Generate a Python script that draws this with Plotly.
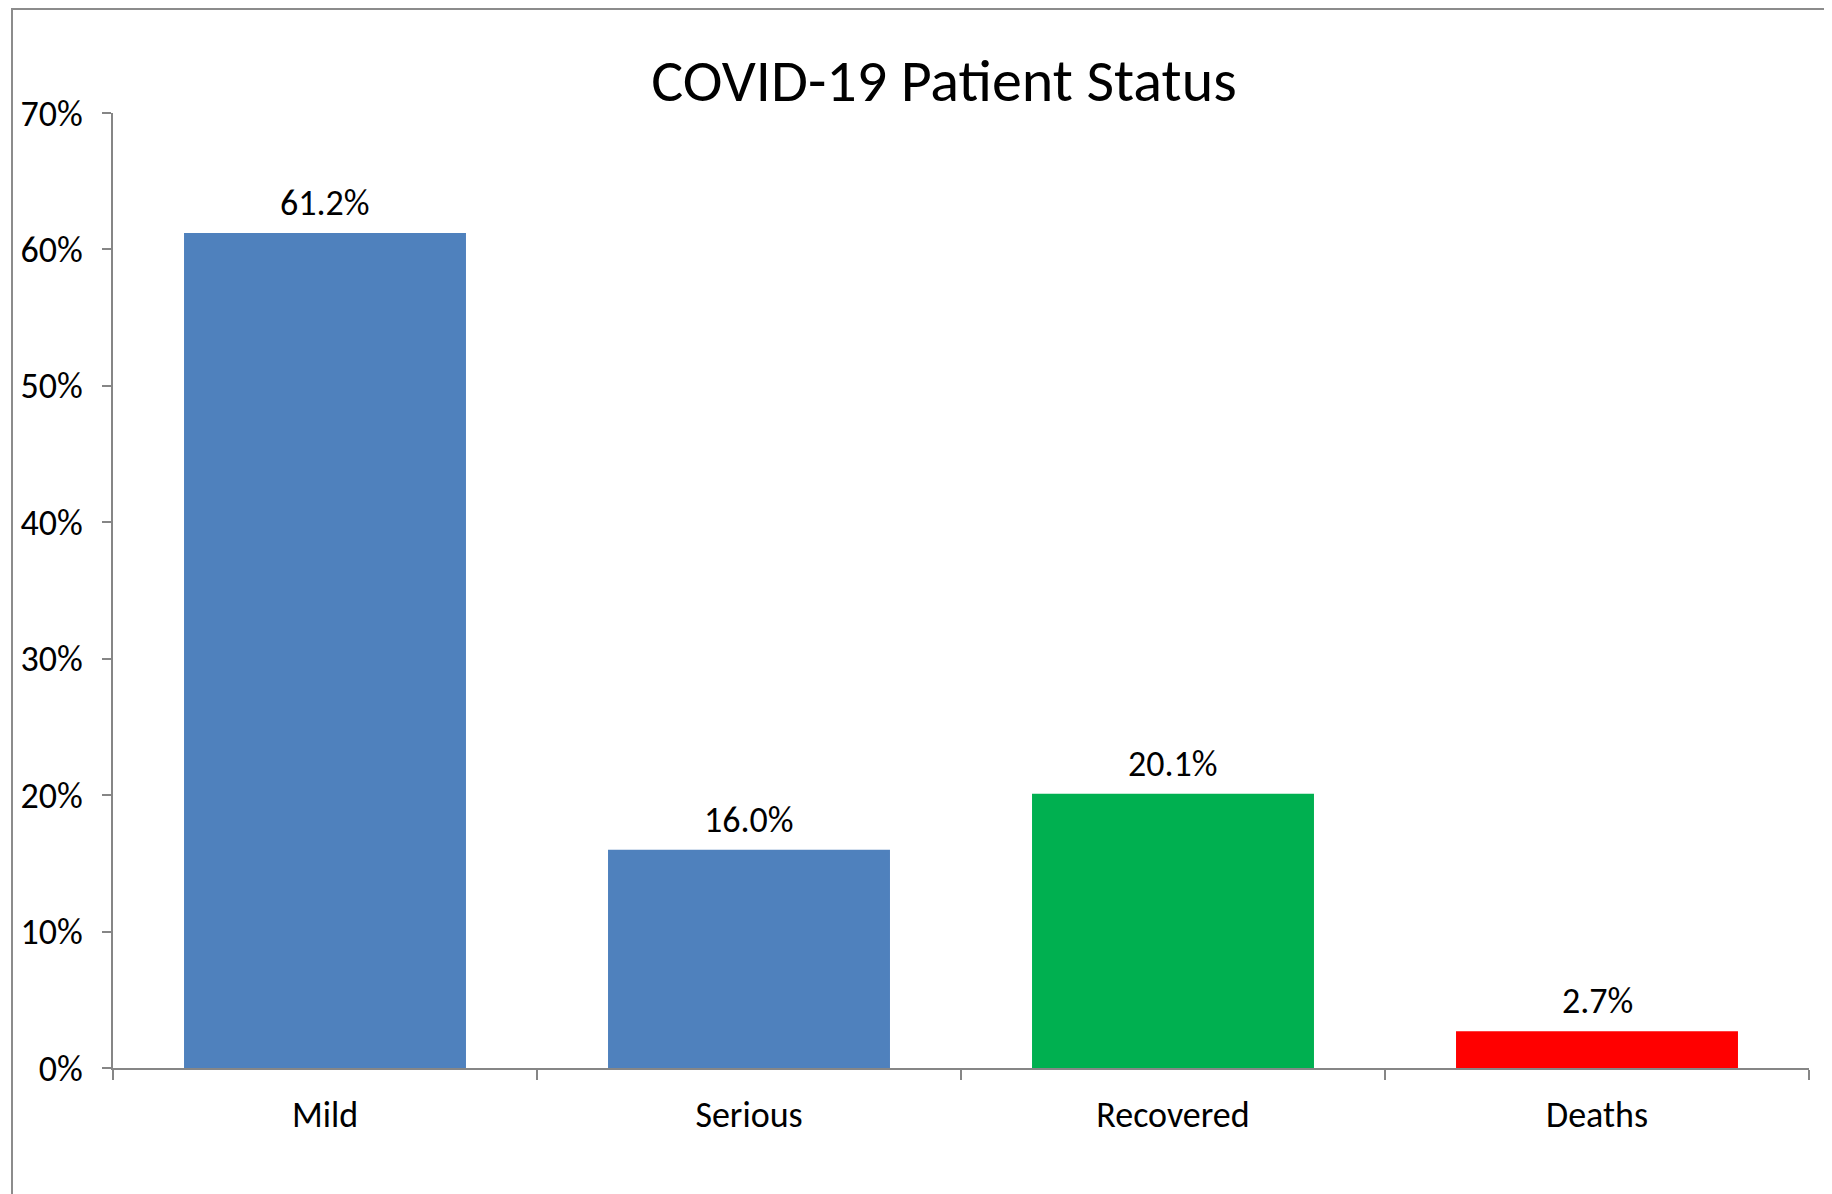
import plotly.graph_objects as go

categories = ["Mild", "Serious", "Recovered", "Deaths"]
values = [61.2, 16.0, 20.1, 2.7]
colors = ["#4F81BD", "#4F81BD", "#00B050", "#FF0000"]
y_ticks = [0, 10, 20, 30, 40, 50, 60, 70]
y_tick_labels = ["0%", "10%", "20%", "30%", "40%", "50%", "60%", "70%"]

W, H = 1832, 1194
L, R, T, B = 105, 31, 105, 134
pw, ph = W - L - R, H - T - B

font = "Carlito, Lato, sans-serif"

fig = go.Figure(go.Bar(
    x=categories, y=values,
    marker=dict(color=colors, line=dict(width=0)),
    cliponaxis=False,
))

for c, v in zip(categories, values):
    fig.add_annotation(x=c, y=v, text=f"{v:.1f}%", showarrow=False,
                       xref="x", yref="y", yanchor="middle", yshift=30,
                       font=dict(family=font, size=36, color="#000"))

fig.update_layout(
    width=W, height=H,
    margin=dict(l=L, r=R, t=T, b=B, autoexpand=False),
    paper_bgcolor="white", plot_bgcolor="white",
    bargap=0.335,
    showlegend=False,
    title=dict(text="COVID-19 Patient Status", x=936 / W, xanchor="center",
               y=1 - 72 / H, yanchor="middle",
               font=dict(family=font, size=60, color="#000")),
    xaxis=dict(showline=True, linecolor="#868686", linewidth=2,
               ticks="outside", tickson="boundaries", ticklen=10, tickcolor="#868686", tickwidth=2,
               tickfont=dict(family=font, size=36, color="#000"),
               ticklabelstandoff=14,
               showgrid=False, zeroline=False),
    yaxis=dict(range=[0, 70], tickvals=y_ticks, ticktext=y_tick_labels,
               showline=True, linecolor="#868686", linewidth=2,
               ticks="outside", ticklen=9, tickcolor="#868686", tickwidth=2,
               tickfont=dict(family=font, size=36, color="#000"),
               ticklabelstandoff=12,
               showgrid=False, zeroline=False),
    shapes=[dict(type="rect", xref="paper", yref="paper",
                 x0=(4 - L) / pw, x1=(W + 20 - L) / pw,
                 y0=(H - B - (H + 20)) / ph, y1=(H - B - 1) / ph,
                 line=dict(color="#8C8C8C", width=2), fillcolor="rgba(0,0,0,0)", layer="below")],
)

fig.write_html("out.html")
